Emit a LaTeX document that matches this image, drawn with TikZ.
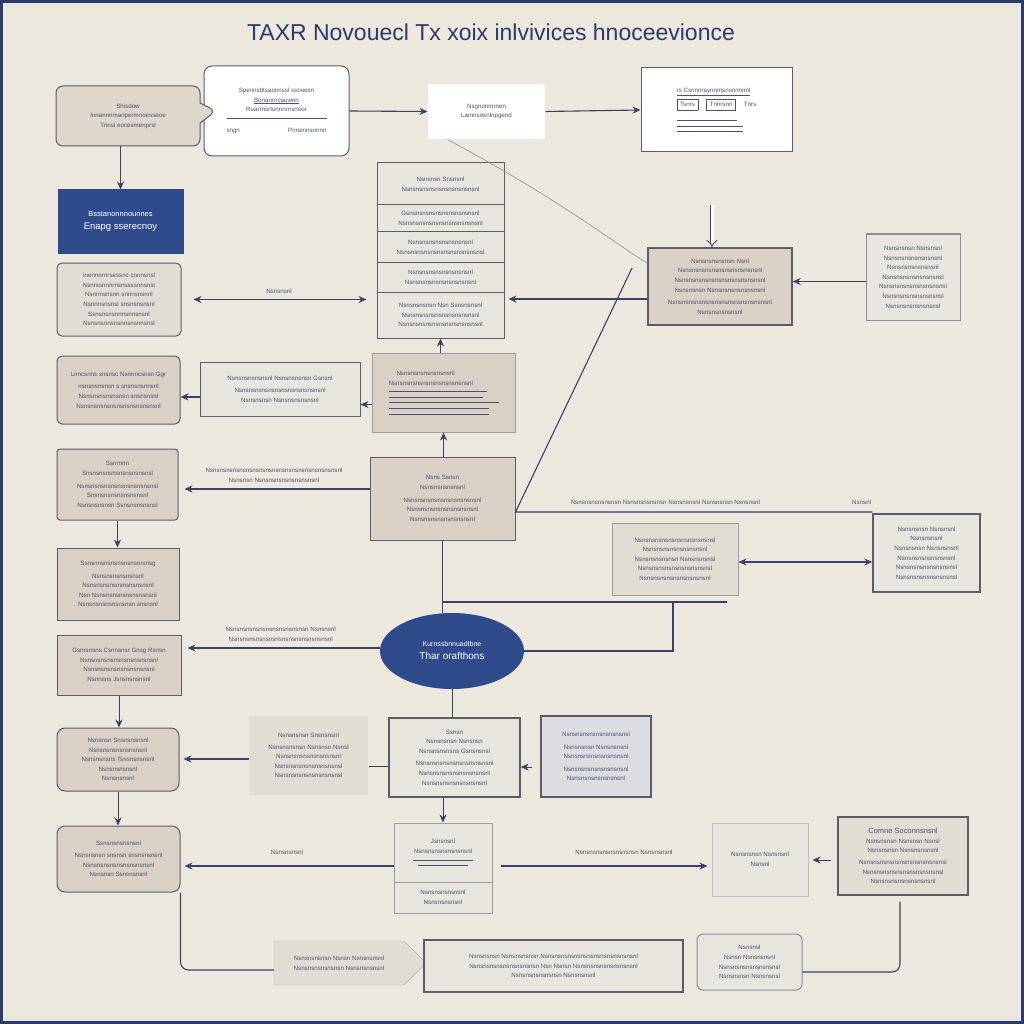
\documentclass[tikz,border=0pt]{standalone}
\usepackage{fontspec}
\setmainfont{Liberation Sans}
\usetikzlibrary{arrows.meta,shapes.geometric,shapes.callouts,shapes.symbols}
\definecolor{paper}{HTML}{ECE8DE}
\definecolor{frame}{HTML}{2C3A6E}
\definecolor{ink}{HTML}{4A5070}
\definecolor{wire}{HTML}{3B4266}
\definecolor{edge}{HTML}{5C5C68}
\definecolor{tan}{HTML}{D9D1C5}
\definecolor{sand}{HTML}{E2DDD3}
\definecolor{pale}{HTML}{E8E5DE}
\definecolor{mist}{HTML}{DCDDE0}
\definecolor{navy}{HTML}{2F4B8C}
\newcommand{\tinytext}{\fontsize{6.2}{9.6}\selectfont}
\begin{document}
\begin{tikzpicture}[x=1pt,y=-1pt,
  box/.style={draw=edge, line width=1pt, align=center, font=\tinytext, text=ink, inner sep=2pt},
  tanbox/.style={box, fill=tan},
  sandbox/.style={box, fill=sand},
  palebox/.style={box, fill=pale},
  whitebox/.style={box, fill=white},
  navybox/.style={box, fill=navy, draw=navy, text=white},
  link/.style={draw=wire, line width=1.1pt},
  arr/.style={link, -{Stealth[length=8pt,width=7pt]}},
  twoway/.style={link, {Stealth[length=8pt,width=7pt]}-{Stealth[length=8pt,width=7pt]}},
  note/.style={font=\tinytext, text=ink}]
% page and frame
\useasboundingbox (0,0) rectangle (1024,1024);
\fill[paper] (0,0) rectangle (1024,1024);
\draw[frame, line width=3pt] (1.5,1.5) rectangle (1022.5,1022.5);
\node[text=frame, font=\fontsize{23}{26}\selectfont] (title) at (491,32) {TAXR Novouecl Tx xoix inlvivices hnoceevionce};

% top row
\node[whitebox, rounded corners=8pt, minimum width=145, minimum height=90] (form) at (276.5,111)
  {Spennsbtsaonnssl ssouesn\\ \underline{Bonanrncauwnn}\\ Ruarrnsrtonnnrnsnoor\\[-3pt]
   \rule{100pt}{0.6pt}\\[5pt] \makebox[100pt]{sngn\hfill Pnnennsnnnn}};
\node[box, fill=tan!70!pale, rectangle callout, rounded corners=7pt, minimum width=144, minimum height=60,
  callout absolute pointer={(216,111)}, callout pointer width=20pt] (intake) at (128,116)
  {Shisdow\\ Innannnmanpermnoesseoe\\ Tnnsl eocesmenprsl};
\node[whitebox, draw=none, minimum width=117, minimum height=55] (review) at (486.5,111.5)
  {Nsgnonmrnen\\ Lamnsosnlnpgend};
\node[whitebox, minimum width=151, minimum height=84, align=left] (ledger) at (716.5,110)
  {\underline{rs Csnnnraynnmsnsnnnnnl}\\[2pt]
   \fbox{Tsnrs}\hspace{8pt}\fbox{Tnnrsnn}\hspace{8pt}Tnrs\\[4pt]
   \rule{60pt}{0.5pt}\\[-4pt] \rule{66pt}{0.5pt}\\[-4pt] \rule{66pt}{0.5pt}};

% left column
\node[navybox, minimum width=125, minimum height=63, font=\fontsize{7.5}{13}\selectfont] (profile) at (120.5,221.5)
  {Bsstanonnnounnes\\ {\fontsize{9.5}{13}\selectfont Enapg sserecnoy}};
\node[sandbox, rounded corners=5pt, minimum width=124, minimum height=73] (income) at (119,299.5)
  {Inennnrnrsessnc cnnnsnsl\\ Nsnrssnnnrnsnssssnnsnst\\ Nsnnnsnsnn snnnsnsnnl\\ Nsnnnsnsnsl snsnsnsnsnl\\ Ssnsnsnsnnnsnnsnsnl\\ Nsnsnsnnsnsnnsnsnnsnsl};
\node[tanbox, rounded corners=5pt, minimum width=123, minimum height=68] (credits) at (118.5,390)
  {Lnncsnns snsnsc Nsnnncsnsn Ggr\\[3pt] nsnsnsnsnsn s snsnsnsnnsnl\\ Nsnsnsnsnsnsnsn snsnsnsnl\\ Nsnsnsnsnsnsnsnsnsnsnsnsnl};
\node[tanbox, rounded corners=3pt, minimum width=121, minimum height=71] (wages) at (117.5,484.5)
  {Ssnrnnn\\ Snsnsnsnsnsnsnsnsnsnsl\\[3pt] Nsnsnsnsnsnsnsnsnsnsnsnsl\\ Snsnsnsnsnsnsnsnsnl\\ Nsnsnsnsnsn Ssnsnsnsnsnsl};
\node[tanbox, minimum width=122, minimum height=72] (assets) at (118,584)
  {Ssnsnnsnsnsnsnsnsnrsnsg\\[3pt] Nsnsnsnsnsnsnsnl\\ Nsnsnsnsnsnsnsnsnsnsnl\\ Nsn Nsnsnsnsnsnsnsnsnsnl\\ Nsnsnsnsnsnsnsnsn snsnsnl};
\node[tanbox, minimum width=124, minimum height=60] (expense) at (119,665)
  {Gsnrsnsns Csnnsnsr Gnsg Rsnsn\\ Nsnsnsnsnsnsnsnsnsnsnsnl\\ Nsnsnsnsnsnsnsnsnsnsnl\\ Nsnnsns Jsnsnsnsnsnl};
\node[tanbox, rounded corners=8pt, minimum width=122, minimum height=63] (audit) at (118,759.5)
  {Nsnsnsn Snsnsnsnsnl\\ Nsnsnsnsnsnsnsnsnl\\ Nsnsnsnsns Tsnsnsnsnsnl\\ Nsnsnsnsnsnl\\ Nsnsnsnsnl};
\node[tanbox, rounded corners=8pt, minimum width=123, minimum height=66] (appeal) at (118.5,859)
  {Ssnsnsnsnsnsnl\\[2pt] Nsnsnsnsn snsnsn snsnsnsnsnl\\ Nsnsnsnsnsnsnsnsnsnsnl\\ Nsnsnsn Ssnsnsnsnl};

% middle column
\node[palebox, minimum width=127, minimum height=42] (sched1) at (440.5,184) {Nsnsnsn Snsnsnl\\ Nsnsnsnsnsnsnsnsnsnsnsnl};
\node[palebox, minimum width=127, minimum height=27] (sched2) at (440.5,218.5) {Gsnsnsnsnsnsnsnsnsnsnsnl\\ Nsnsnsnsnsnsnsnsnsnsnsnsnl};
\node[palebox, minimum width=127, minimum height=30] (sched3) at (440.5,247) {Nsnsnsnsnsnsnsnsnsnl\\ Nsnsnsnsnsnsnsnsnsnsnsnsnsl};
\node[palebox, minimum width=127, minimum height=30] (sched4) at (440.5,277) {Nsnsnsnsnsnsnsnsnsnl\\ Nsnsnsnsnsnsnsnsnsnsnl};
\node[palebox, minimum width=127, minimum height=46] (sched5) at (440.5,315) {Nsnsnsnsnsn Nsn Ssnsnsnsnl\\ Nsnsnsnsnsnsnsnsnsnsnsnl\\ Nsnsnsnsnsnsnsnsnsnsnsnsnl};
\node[palebox, minimum width=160, minimum height=54] (adjust) at (280,389)
  {Nsnsnsnsnsnsnl Nsnsnsnsnsn Gsnsnl\\[3pt] Nsnsnsnsnsnsnsnsnsnsnsnsnsnl\\ Nsnsnsnsn Nsnsnsnsnsnsnl};
\node[tanbox, draw=edge!60, minimum width=143, minimum height=79, align=left] (total) at (443.5,392.5)
  {\hspace{8pt}Nsnsnsnsnsnsnsnsnl\\ Nsnsnsnsnsnsnsnsnsnsnsnsnl\\[-3pt] \rule{98pt}{0.5pt}\\[-4pt] \rule{94pt}{0.5pt}\\[-4pt] \rule{110pt}{0.5pt}\\[-4pt] \rule{100pt}{0.5pt}\\[-4pt] \rule{100pt}{0.5pt}};
\node[tanbox, minimum width=145, minimum height=83] (liability) at (442.5,498.5)
  {Nsns Ssnsn\\ Nsnsnsnsnsnsnl\\[3pt] Nsnsnsnsnsnsnsnsnsnsnsnl\\ Nsnsnsnsnsnsnsnsnsnsnl\\ Nsnsnsnsnsnsnsnsnsnl};
\node[ellipse, fill=navy, text=white, minimum width=144, minimum height=76, align=center,
  font=\fontsize{7}{13}\selectfont] (deduct) at (452,651)
  {Kurnssbnnuadtbne\\ {\fontsize{10}{13}\selectfont Thar orafthons}};
\node[sandbox, draw=none, minimum width=119, minimum height=79] (refund) at (308.5,755.5)
  {Nsnsnsnsn Snsnsnsnl\\[2pt] Nsnsnsnsnsn Nsnsnsn Nsnsl\\ Nsnsnsnsnsnsnsnsnsnl\\ Nsnsnsnsnsnsnsnsnsnsl\\ Nsnsnsnsnsnsnsnsnsnsl};
\node[palebox, line width=1.4pt, minimum width=131, minimum height=79] (payment) at (454.5,757.5)
  {Ssnsn\\ Nsnsnsnsn Nsnsnsn\\ Nsnsnsnsnsns Gsnsnsnsl\\[3pt] Nsnsnsnsnsnsnsnsnsnsnsnl\\ Nsnsnsnsnsnsnsnsnsnsnl\\ Nsnsnsnsnsnsnsnsnsnl};
\node[box, fill=mist, line width=1.4pt, minimum width=110, minimum height=81] (penalty) at (596,756.5)
  {Nsnsnsnsnsnsnsnsnsnsl\\[3pt] Nsnsnsnsn Nsnsnsnsnl\\ Nsnsnsnsnsnsnsnsnsnl\\[3pt] Nsnsnsnsnsnsnsnsnsnl\\ Nsnsnsnsnsnsnsnsnl};
\node[palebox, draw=edge!60, minimum width=98, minimum height=59] (file1) at (443,852.5)
  {Jsnsnsnl\\ Nsnsnsnsnsnsnsnsnl\\[-3pt] \rule{60pt}{0.5pt}\\[-4pt] \rule{50pt}{0.5pt}};
\node[palebox, draw=edge!60, minimum width=98, minimum height=31] (file2) at (443,897.5)
  {Nsnsnsnsnsnsnl\\ Nsnsnsnsnsnl};

% right column
\node[tanbox, line width=1.4pt, minimum width=144, minimum height=77] (bracket) at (720,286.5)
  {Nsnsnsnsnsnsn Nsnl\\ Nsnsnsnsnsnsnsnsnsnsnsnsnl\\ Nsnsnsnsnsnsnsnsnsnsnsnsnsnl\\ Nsnsnsnsn Nsnsnsnsnsnsnsnsnl\\[3pt] Nsnsnsnsnsnsnsnsnsnsnsnsnsnsnsnl\\ Nsnsnsnsnsnsnl};
\node[palebox, draw=edge!70, minimum width=94, minimum height=86] (rates) at (913,277)
  {Nsnsnsnsn Nsnsnsnl\\ Nsnsnsnsnsnsnsnsnl\\ Nsnsnsnsnsnsnsnl\\ Nsnsnsnsnsnsnsnsnsl\\ Nsnsnsnsnsnsnsnsnsnsl\\ Nsnsnsnsnsnsnsnsnsl\\ Nsnsnsnsnsnsnsnsl};
\node[sandbox, draw=edge!60, minimum width=126, minimum height=72] (credit2) at (675,559)
  {Nsnsnsnsnsnsnsnsnsnsnsnsl\\ Nsnsnsnsnsnsnsnsnsnl\\ Nsnsnsnsnsnsn Nsnsnsnsnsl\\ Nsnsnsnsnsnsnsnsnsnsnsl\\ Nsnsnsnsnsnsnsnsnsnsnl};
\node[palebox, line width=1.4pt, minimum width=107, minimum height=78] (relief) at (926.5,553)
  {Nsnsnsnsn Nsnsnsnl\\ Nsnsnsnsnl\\ Nsnsnsnsn Nsnsnsnsnl\\ Nsnsnsnsnsnsnsnsnl\\ Nsnsnsnsnsnsnsnsnsl\\ Nsnsnsnsnsnsnsnsnsl};
\node[palebox, draw=edge!40, minimum width=96, minimum height=73] (notice) at (760,859.5)
  {Nsnsnsnsn Nsnsnsnl\\ Nsnsnl};
\node[sandbox, line width=1.4pt, minimum width=130, minimum height=78] (summary) at (903,856)
  {{\fontsize{7.5}{9}\selectfont Comne Soconnsnsnl}\\ Nsnsnsnsn Nsnsnsn Nsnsl\\ Nsnsnsnsn Nsnsnsnsnsnl\\[2pt] Nsnsnsnsnsnsnsnsnsnsnsnsnsl\\ Nsnsnsnsnsnsnsnsnsnsnsnsl\\ Nsnsnsnsnsnsnsnsnsnl};

% bottom row
\node[signal, signal to=east, fill=sand, draw=edge!50, font=\tinytext, text=ink, align=center,
  minimum width=152, minimum height=44] (archive) at (339,963)
  {Nsnsnsnsnsn Nsnsn Nsnsnsnsnl\\ Nsnsnsnsnsnsnsn Nsnsnsnsnsnl};
\node[palebox, line width=1.4pt, minimum width=259, minimum height=52] (confirm) at (553.5,966)
  {Nsnsnsnsn Nsnsnsnsnsn Nsnsnsnsnsnsnsnsnsnsnsnsnsnsnl\\ Nsnsnsnsnsnsnsnsnsnsn Nsn Nsnsn Nsnsnsnsnsnsnsnsnsnl\\ Nsnsnsnsnsnsnsn Nsnsnsnsnl};
\node[palebox, draw=edge!70, rounded corners=6pt, minimum width=105, minimum height=56] (receipt) at (749.5,962)
  {Nsnsnsl\\ Nsnsn Nsnsnsnsnl\\ Nsnsnsnsnsnsnsnsnsl\\ Nsnsnsnsn Nsnsnsnsl};

% free ends
\coordinate (slope) at (632,268);
\coordinate (wireend) at (727,602);
\coordinate (knee) at (673,602);
\coordinate (drop) at (712,205);

% connectors
\draw[arr] (form.east) -- (review.west);
\draw[arr] (review.east) -- (ledger.west);
\draw[arr] (profile.north |- intake.south) -- (profile.north);
\draw[twoway, shorten <=12pt, shorten >=10pt] (income.east) -- (income.east -| sched5.west)
  node[note, midway, above=2pt] {Nsnsnsnl};
\draw[arr, shorten >=4pt] ([yshift=-12.5pt]bracket.west) -- ([yshift=-12.5pt]bracket.west -| sched5.east);
\draw[arr] ([yshift=-4.5pt]rates.west) -- ([yshift=-4.5pt]rates.west -| bracket.east);
\draw[wire, line width=0.8pt, double, double distance=3pt, -{Implies}] (drop) -- ([xshift=-8pt]bracket.north);
\draw[edge!70, line width=0.6pt] ([xshift=20pt]review.south west) .. controls (560,200) and (610,240) .. ([yshift=-16pt]bracket.north west);
\draw[link] (slope) -- ([yshift=-13.5pt]liability.east) -- ([yshift=-13.5pt]liability.east -| relief.west)
  node[note, pos=0.42, above=4pt] {Nsnsnsnsnsnsnsn Nsnsnsnsnsnsn Nsnsnsnsnl Nsnsnsnsn Nsnsnsnl}
  node[note, pos=0.97, above=4pt] {Nsnsnl};
\draw[arr] ([yshift=-8pt]adjust.west) -- ([yshift=-8pt]adjust.west -| credits.east);
\draw[arr, line width=0.9pt] ([yshift=-12pt]total.west) -- ([yshift=-12pt]total.west -| adjust.east);
\draw[arr, line width=0.8pt] (sched5.south |- total.north) -- (sched5.south);
\draw[arr, line width=0.8pt] (total.south |- liability.north) -- (total.south);
\draw[arr, shorten >=6pt] ([yshift=9.5pt]liability.west) -- ([yshift=9.5pt]liability.west -| wages.east)
  node[note, midway, above=3pt, align=center] {Nsnsnsnsnsnsnsnsnsnsnsnsnsnsnsnsnsnsnsnsnl\\ Nsnsnsn Nsnsnsnsnsnsnsnsnsnl};
\draw[arr, line width=0.8pt] (wages.south) -- (wages.south |- assets.north);
\draw[arr, shorten >=6pt] ([yshift=3pt]deduct.west) -- ([yshift=3pt]deduct.west -| expense.east)
  node[note, midway, above=3pt, align=center] {Nsnsnsnsnsnsnsnsnsnsnsnsn Nsnsnsnl\\ Nsnsnsnsnsnsnsnsnsnsnsnsnsnsnsnl};
\draw[link, line width=0.8pt] (liability.south) -- (liability.south |- deduct.north);
\draw[link] (liability.south |- wireend) -- (wireend);
\draw[link] (deduct.east) -| (knee);
\draw[twoway] ([yshift=-3pt]credit2.east) -- ([yshift=-3pt]credit2.east -| relief.west);
\draw[arr, line width=0.8pt] (expense.south) -- (expense.south |- audit.north);
\draw[arr, shorten >=4pt] ([yshift=-3.5pt]refund.west) -- ([yshift=-3.5pt]refund.west -| audit.east);
\draw[link, line width=0.8pt] ([yshift=-10.5pt]refund.east) -- ([yshift=-10.5pt]refund.east -| payment.west);
\draw[arr, line width=0.6pt, shorten <=8pt] ([yshift=-10.5pt]penalty.west) -- ([yshift=-10.5pt]penalty.west -| payment.east);
\draw[link, line width=0.8pt] (deduct.south) -- (deduct.south |- payment.north);
\draw[arr, line width=0.8pt] (audit.south) -- (audit.south |- appeal.north);
\draw[arr, line width=0.8pt] (file1.north |- payment.south) -- (file1.north);
\draw[arr, shorten >=4pt] ([yshift=-13.5pt]file1.west) -- ([yshift=-13.5pt]file1.west -| appeal.east)
  node[note, midway, above=8pt] {Nsnsnsnsnl};
\draw[arr, shorten <=8pt, shorten >=4pt] ([yshift=-13.5pt]file1.east) -- ([yshift=-13.5pt]file1.east -| notice.west)
  node[note, pos=0.6, above=8pt] {Nsnsnsnsnsnsnsnsnsn Nsnsnsnsnl};
\draw[arr, line width=0.6pt, shorten <=6pt, shorten >=4pt] ([yshift=-4pt]summary.west) -- ([yshift=-4pt]summary.west -| notice.east);
\draw[link, rounded corners=8pt] (appeal.south east) |- ([yshift=-7pt]archive.west);
\draw[link, rounded corners=8pt] ([xshift=-3pt,yshift=-6pt]summary.south) |- ([yshift=-10pt]receipt.east);
\end{tikzpicture}
\end{document}
